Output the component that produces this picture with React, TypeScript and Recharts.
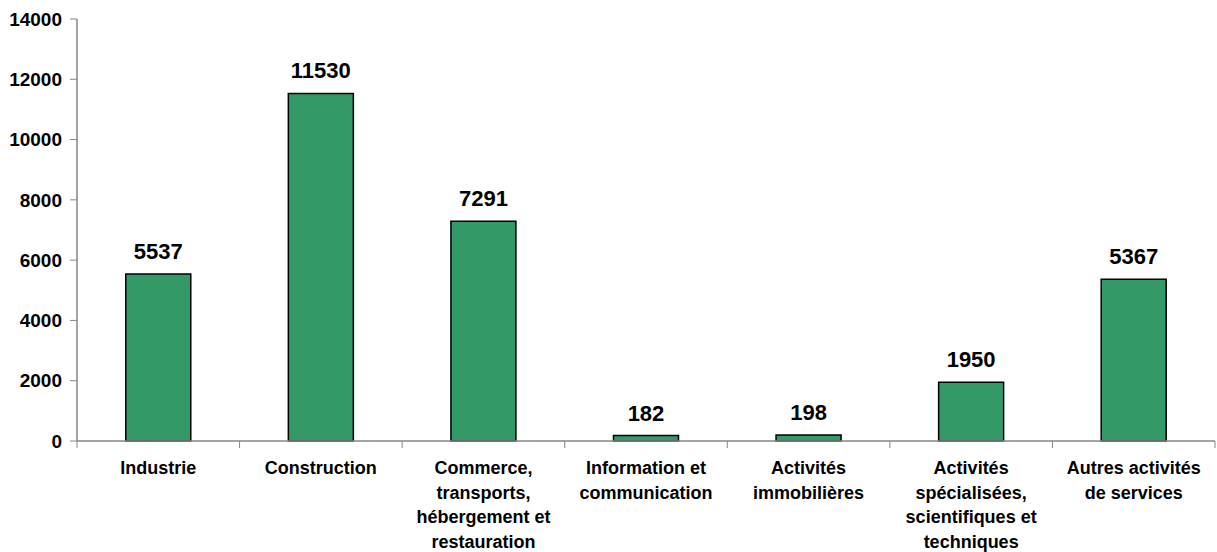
import React from 'react';
import { BarChart, Bar, XAxis, YAxis, LabelList } from 'recharts';

// Nombre par secteur d'activité
const categories = [
  'Industrie',
  'Construction',
  'Commerce,\ntransports,\nhébergement et\nrestauration',
  'Information et\ncommunication',
  'Activités\nimmobilières',
  'Activités\nspécialisées,\nscientifiques et\ntechniques',
  'Autres activités\nde services',
];
const values = [5537, 11530, 7291, 182, 198, 1950, 5367];
const yTicks = [0, 2000, 4000, 6000, 8000, 10000, 12000, 14000];

const FONT = '"Liberation Sans", Arial, sans-serif';
const AXIS = '#868686';
const W = 1217;
const H = 552;
const MARGIN = { top: 19, right: 2, left: 0, bottom: 0 };
const Y_WIDTH = 77;

const data = categories.map((name, i) => ({ name, value: values[i] }));

const CategoryTick = (props: any) => {
  const { x, y, payload, index } = props;
  const half = payload?.offset || (W - MARGIN.right - Y_WIDTH) / categories.length / 2;
  const axisY = y - 8; // recharts shifts ticks by tickSize + tickMargin
  const lines = String(payload.value).split('\n');
  return (
    <g>
      <line x1={x - half} y1={axisY} x2={x - half} y2={axisY + 7} stroke={AXIS} strokeWidth={1} />
      {index === categories.length - 1 && (
        <line x1={x + half} y1={axisY} x2={x + half} y2={axisY + 7} stroke={AXIS} strokeWidth={1} />
      )}
      <text x={x} y={axisY + 33} textAnchor="middle" fontFamily={FONT} fontWeight="bold" fontSize={18} fill="#000">
        {lines.map((l, i) => (
          <tspan key={i} x={x} dy={i === 0 ? 0 : 24.7}>{l}</tspan>
        ))}
      </text>
    </g>
  );
};

const ValueLabel = (props: any) => {
  const { x, y, width, value } = props;
  return (
    <text x={x + width / 2} y={y - 15} textAnchor="middle" fontFamily={FONT} fontWeight="bold" fontSize={22} fill="#000">
      {value}
    </text>
  );
};

const App: React.FC = () => {
  return (
    <div style={{ position: 'fixed', top: 0, left: 0, width: W, height: H, background: '#fff' }}>
      <BarChart width={W} height={H} data={data} margin={MARGIN} barCategoryGap="30%">
        <XAxis
          dataKey="name"
          interval={0}
          height={H - 441}
          axisLine={{ stroke: AXIS, strokeWidth: 1.5 }}
          tickLine={false}
          tick={<CategoryTick />}
        />
        <YAxis
          width={Y_WIDTH}
          domain={[0, 14000]}
          ticks={yTicks}
          interval={0}
          axisLine={{ stroke: AXIS, strokeWidth: 1.5 }}
          tickLine={{ stroke: AXIS }}
          tickSize={7}
          tickMargin={8}
          tick={{ fill: '#000', fontFamily: FONT, fontWeight: 'bold', fontSize: 19 }}
        />
        <Bar dataKey="value" fill="#339966" stroke="#000" strokeWidth={1.5} isAnimationActive={false}>
          <LabelList dataKey="value" content={<ValueLabel />} />
        </Bar>
      </BarChart>
    </div>
  );
};

export default App;
